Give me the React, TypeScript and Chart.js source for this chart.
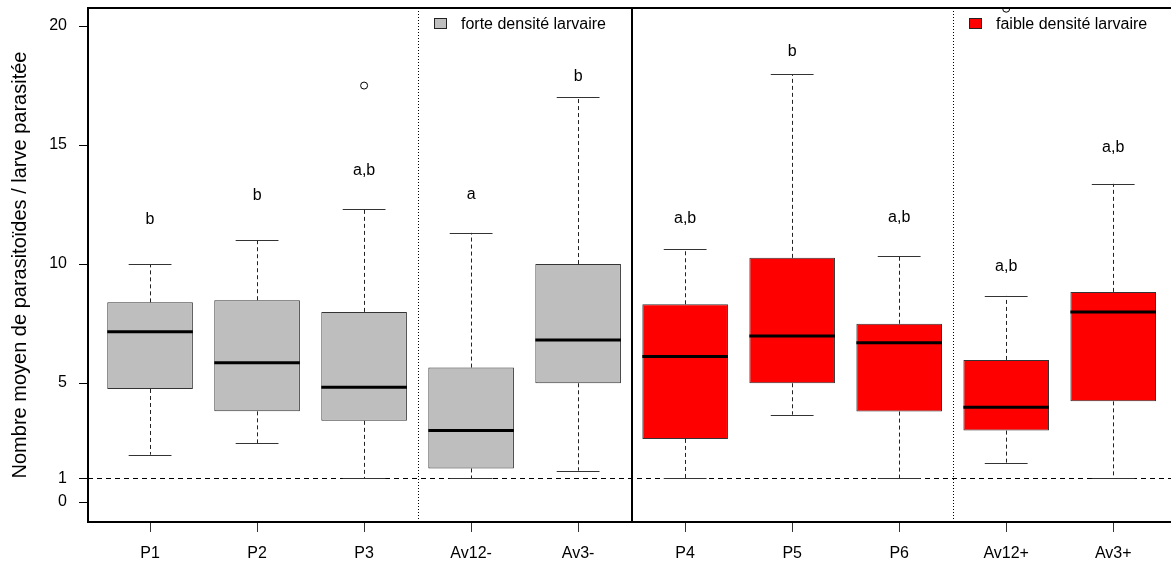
import { useEffect, useRef } from 'react';
import { Chart, registerables } from 'chart.js';

Chart.register(...registerables);

// ---- data ----
const categories = ['P1', 'P2', 'P3', 'Av12-', 'Av3-', 'P4', 'P5', 'P6', 'Av12+', 'Av3+'];
const groupOf = [0, 0, 0, 0, 0, 1, 1, 1, 1, 1]; // 0 = forte, 1 = faible
const whiskerLow = [1.99, 2.48, 1.0, 1.0, 1.32, 1.0, 3.67, 1.0, 1.64, 1.0];
const q1 = [4.75, 3.81, 3.41, 1.41, 4.99, 2.65, 4.99, 3.8, 3.0, 4.23];
const medians = [7.15, 5.85, 4.82, 3.0, 6.81, 6.12, 6.98, 6.69, 3.98, 7.99];
const q3 = [8.39, 8.48, 7.99, 5.65, 10.0, 8.31, 10.26, 7.49, 5.97, 8.83];
const whiskerHigh = [10.0, 11.03, 12.33, 11.31, 17.01, 10.65, 17.97, 10.33, 8.66, 13.37];
const outlierCategory = [2, 8];
const outlierValues = [17.5, 20.73];
const letters = ['b', 'b', 'a,b', 'a', 'b', 'a,b', 'b', 'a,b', 'a,b', 'a,b'];
const letterValues = [11.87, 12.88, 13.93, 12.91, 17.89, 11.91, 18.94, 11.96, 9.9, 14.9];
const yTicks = [0, 1, 5, 10, 15, 20];
const referenceValue = 1;
const groupLabels = ['forte densité larvaire', 'faible densité larvaire'];
const groupColors = ['#BEBEBE', '#FF0000'];
const solidDividers = [4.5];
const dottedDividers = [2.5, 7.5];
const yTitle = 'Nombre moyen de parasitoïdes / larve parasitée';

const FONT = "'Liberation Sans', Arial, sans-serif";

const extrasPlugin = {
  id: 'boxExtras',
  beforeDatasetsDraw(chart: any) {
    const { ctx, chartArea: a, scales } = chart;
    const x = scales.x;
    const y = scales.y;
    ctx.save();
    ctx.strokeStyle = '#000';
    ctx.lineWidth = 1;
    ctx.setLineDash([5, 4]);
    const yr = Math.round(y.getPixelForValue(referenceValue)) + 0.5;
    ctx.beginPath();
    ctx.moveTo(a.left, yr);
    ctx.lineTo(a.right, yr);
    ctx.stroke();
    ctx.setLineDash([1, 2]);
    for (const d of dottedDividers) {
      const px = Math.round(x.getPixelForValue(d)) + 0.5;
      ctx.beginPath();
      ctx.moveTo(px, a.top);
      ctx.lineTo(px, a.bottom);
      ctx.stroke();
    }
    ctx.setLineDash([]);
    ctx.lineWidth = 2;
    for (const d of solidDividers) {
      const px = Math.round(x.getPixelForValue(d));
      ctx.beginPath();
      ctx.moveTo(px, a.top);
      ctx.lineTo(px, a.bottom);
      ctx.stroke();
    }
    ctx.restore();
  },
  afterDatasetsDraw(chart: any) {
    const { ctx, chartArea: a, scales } = chart;
    const x = scales.x;
    const y = scales.y;
    ctx.save();
    categories.forEach((_, i) => {
      const cx = Math.round(x.getPixelForValue(i)) + 0.5;
      const capL = x.getPixelForValue(i - 0.2);
      const capR = x.getPixelForValue(i + 0.2);
      const boxL = x.getPixelForValue(i - 0.4);
      const boxR = x.getPixelForValue(i + 0.4);
      ctx.strokeStyle = '#222';
      ctx.lineWidth = 1;
      ctx.setLineDash([4, 3]);
      ctx.beginPath();
      ctx.moveTo(cx, y.getPixelForValue(q3[i]));
      ctx.lineTo(cx, y.getPixelForValue(whiskerHigh[i]));
      ctx.moveTo(cx, y.getPixelForValue(q1[i]));
      ctx.lineTo(cx, y.getPixelForValue(whiskerLow[i]));
      ctx.stroke();
      ctx.setLineDash([]);
      ctx.strokeStyle = '#333';
      ctx.beginPath();
      const yh = Math.round(y.getPixelForValue(whiskerHigh[i])) + 0.5;
      const yl = Math.round(y.getPixelForValue(whiskerLow[i])) + 0.5;
      ctx.moveTo(capL, yh);
      ctx.lineTo(capR, yh);
      ctx.moveTo(capL, yl);
      ctx.lineTo(capR, yl);
      ctx.stroke();
      ctx.strokeStyle = '#000';
      ctx.lineWidth = 3;
      ctx.beginPath();
      const ym = y.getPixelForValue(medians[i]);
      ctx.moveTo(boxL, ym);
      ctx.lineTo(boxR, ym);
      ctx.stroke();
      ctx.fillStyle = '#000';
      ctx.font = `16px ${FONT}`;
      ctx.textAlign = 'center';
      ctx.textBaseline = 'middle';
      ctx.fillText(letters[i], x.getPixelForValue(i), y.getPixelForValue(letterValues[i]));
    });
    ctx.font = `16px ${FONT}`;
    ctx.textAlign = 'left';
    ctx.textBaseline = 'middle';
    groupLabels.forEach((lab, g) => {
      const startX = Math.round(x.getPixelForValue(dottedDividers[g])) + 16;
      const midY = a.top + 16;
      ctx.fillStyle = groupColors[g];
      ctx.fillRect(startX + 0.5, midY - 5.5, 12, 10);
      ctx.strokeStyle = '#222';
      ctx.lineWidth = 1;
      ctx.strokeRect(startX + 0.5, midY - 5.5, 12, 10);
      ctx.fillStyle = '#000';
      ctx.fillText(lab, startX + 27, midY + 1);
    });
    ctx.strokeStyle = '#000';
    ctx.lineWidth = 2;
    ctx.beginPath();
    ctx.moveTo(a.left, a.top);
    ctx.lineTo(a.right, a.top);
    ctx.stroke();
    ctx.restore();
  },
};

export default function App() {
  const ref = useRef<HTMLCanvasElement>(null);
  useEffect(() => {
    if (!ref.current) return;
    Chart.defaults.font.family = FONT;
    const chart = new Chart(ref.current, {
      type: 'bar',
      data: {
        datasets: [
          {
            type: 'bar',
            data: categories.map((_, i) => ({ x: i, y: [q1[i], q3[i]] })) as any,
            backgroundColor: categories.map((_, i) => groupColors[groupOf[i]]),
            borderColor: '#333',
            borderWidth: 1,
            borderSkipped: false,
            barPercentage: 0.8,
            categoryPercentage: 1,
          } as any,
          {
            type: 'scatter',
            data: outlierCategory.map((c, k) => ({ x: c, y: outlierValues[k] })),
            pointRadius: 3.5,
            pointStyle: 'circle',
            borderColor: '#000',
            borderWidth: 1,
            backgroundColor: 'rgba(0,0,0,0)',
          } as any,
        ],
      },
      options: {
        responsive: false,
        animation: false,
        layout: { autoPadding: false, padding: { left: 4, top: 8, right: 0, bottom: 0 } },
        plugins: { legend: { display: false }, tooltip: { enabled: false } },
        scales: {
          x: {
            type: 'linear',
            min: -0.58,
            max: 9.54,
            offset: false,
            grid: { display: true, drawOnChartArea: false, drawTicks: true, tickLength: 10, color: '#333', offset: false },
            border: { display: true, color: '#000', width: 2 },
            ticks: {
              color: '#000',
              font: { size: 16 },
              padding: 12,
              maxRotation: 0,
              autoSkip: false,
              callback: (v: any) => categories[Math.round(Number(v))] ?? '',
            },
            afterBuildTicks: (s: any) => {
              s.ticks = categories.map((_, i) => ({ value: i }));
            },
            afterFit: (s: any) => {
              s.height = 48;
              s.paddingLeft = 0;
              s.paddingRight = 0;
              s.paddingTop = 0;
              s.paddingBottom = 0;
            },
          } as any,
          y: {
            type: 'linear',
            min: -0.84,
            max: 20.76,
            grid: { display: true, drawOnChartArea: false, drawTicks: true, tickLength: 9, color: '#000' },
            border: { display: true, color: '#000', width: 2 },
            ticks: { color: '#000', font: { size: 16 }, padding: 12 },
            afterBuildTicks: (s: any) => {
              s.ticks = yTicks.map((v) => ({ value: v }));
            },
            afterFit: (s: any) => {
              s.width = 84;
              s.paddingLeft = 0;
              s.paddingRight = 0;
              s.paddingTop = 0;
              s.paddingBottom = 0;
            },
            title: {
              display: true,
              text: yTitle,
              color: '#000',
              font: { size: 20 },
              padding: { top: 4, bottom: 0 },
            },
          } as any,
        },
      },
      plugins: [extrasPlugin],
    });
    return () => chart.destroy();
  }, []);
  return (
    <div style={{ position: 'fixed', left: 0, top: 0, width: 1171, height: 570, background: '#fff' }}>
      <canvas ref={ref} width={1171} height={570} style={{ display: 'block' }} />
    </div>
  );
}
